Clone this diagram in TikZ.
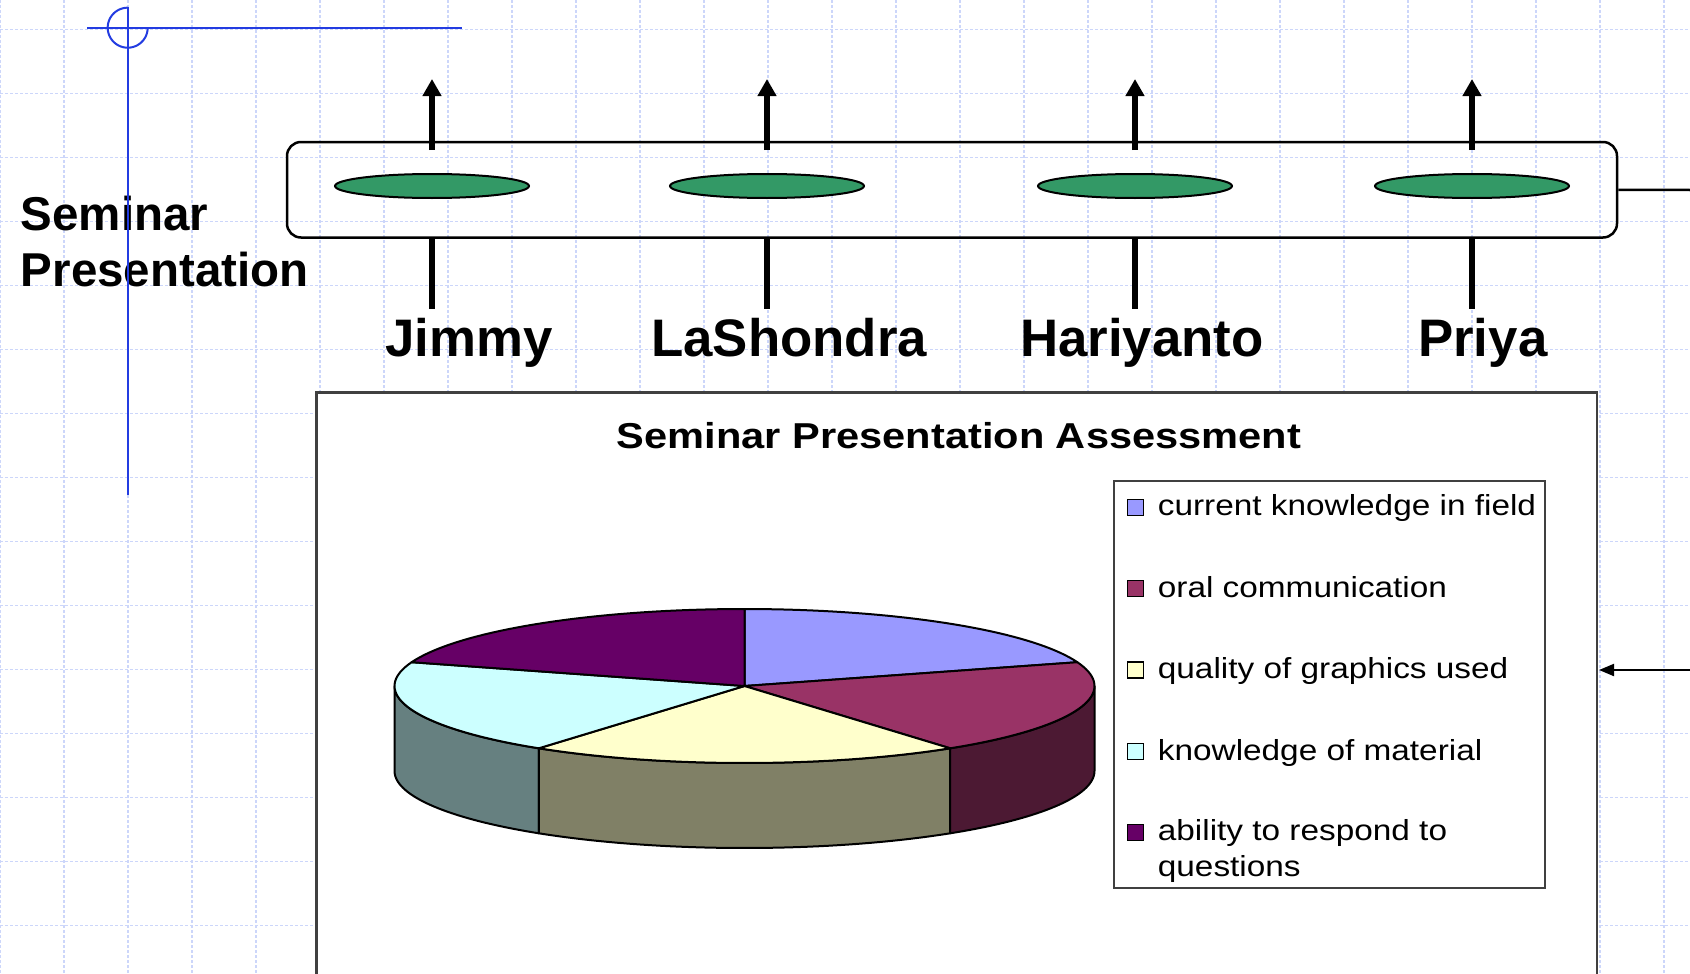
\documentclass[tikz,border=0pt]{standalone}
\usepackage{fontspec}
\setmainfont{Liberation Sans}
\newfontfamily\titlefont{Liberation Sans}[FakeStretch=1.155]
\newfontfamily\legfont{Liberation Sans}[FakeStretch=1.15]
\usetikzlibrary{arrows.meta,shapes.geometric}
\definecolor{gridblue}{RGB}{204,214,250}
\definecolor{guideblue}{RGB}{35,60,225}
\definecolor{pgreen}{RGB}{51,153,102}
\definecolor{cblue}{RGB}{153,153,255}
\definecolor{cmaroon}{RGB}{153,51,102}
\definecolor{ccream}{RGB}{255,255,204}
\definecolor{ccyan}{RGB}{204,255,255}
\definecolor{cpurple}{RGB}{102,0,102}
\definecolor{smaroon}{RGB}{76,25,51}
\definecolor{scream}{RGB}{128,128,102}
\definecolor{scyan}{RGB}{102,128,128}
\definecolor{framegray}{RGB}{64,64,64}
\begin{document}
\begin{tikzpicture}[x=1pt,y=-1pt,
  gridline/.style={gridblue,line width=1.3pt,dash pattern=on 3pt off 2pt},
  guide/.style={guideblue,line width=2pt},
  bar/.style={draw,line width=2.5pt,rounded corners=14pt,minimum width=1330pt,minimum height=95.5pt,inner sep=0pt},
  disc/.style={ellipse,draw,fill=pgreen,line width=2pt,minimum width=194pt,minimum height=24pt,inner sep=0pt},
  uparrow/.style={line width=6pt,-{Triangle[length=17pt,width=18pt]}},
  stem/.style={line width=6.5pt},
  person/.style={anchor=base west,inner sep=0pt,font=\fontsize{52.8}{60}\selectfont\bfseries},
  sem/.style={anchor=base west,inner sep=0pt,font=\fontsize{47.5}{56}\selectfont\bfseries},
  ctitle/.style={anchor=base,inner sep=0pt,font=\titlefont\bfseries\fontsize{36}{40}\selectfont},
  pieline/.style={draw=black,line width=2pt,line join=round},
  key/.style={draw,line width=1.5pt,minimum size=16pt,inner sep=0pt},
  legtext/.style={anchor=base west,inner sep=0pt,font=\legfont\fontsize{29}{36}\selectfont},
  leftarrow/.style={line width=2pt,-{Triangle[length=15pt,width=12pt]}}
]
\useasboundingbox (0,0) rectangle (1690,974);
\clip (0,0) rectangle (1690,974);
\fill[white] (0,0) rectangle (1690,974);
% grid
\foreach \i in {0,...,26} \draw[gridline] (64*\i,0) -- (64*\i,974);
\foreach \j in {0,...,14} \draw[gridline] (0,29.5+64*\j) -- (1690,29.5+64*\j);

% heading
\node[sem] (s1) at (20.7,230) {Seminar};
\node[sem] (s2) at (20.7,286.7) {Presentation};

% guides
\draw[guide] (87,27.7) -- (462,27.7);
\draw[guide] (127.7,7) -- (127.7,495);
\draw[guide] plot[domain=90:360,samples=60] ({127.7+20*cos(\x)},{27.7-20*sin(\x)});

% bar with ellipses
\node[bar] (bar) at (952,189.75) {};
\node[disc] (e1) at (432,186) {};
\node[disc] (e2) at (767,186) {};
\node[disc] (e3) at (1135,186) {};
\node[disc] (e4) at (1472,186) {};
\coordinate (t1) at (432,79);
\coordinate (t2) at (767,79);
\coordinate (t3) at (1135,79);
\coordinate (t4) at (1472,79);
\draw[uparrow] ([yshift=23pt]e1.north) -- (t1);
\draw[uparrow] ([yshift=23pt]e2.north) -- (t2);
\draw[uparrow] ([yshift=23pt]e3.north) -- (t3);
\draw[uparrow] ([yshift=23pt]e4.north) -- (t4);
\coordinate (b1) at (432,309.3);
\coordinate (b2) at (767,309.3);
\coordinate (b3) at (1135,309.3);
\coordinate (b4) at (1472,309.3);
\draw[stem] (e1 |- bar.south) -- (b1);
\draw[stem] (e2 |- bar.south) -- (b2);
\draw[stem] (e3 |- bar.south) -- (b3);
\draw[stem] (e4 |- bar.south) -- (b4);
\coordinate (rl) at (1690,190);
\draw[line width=2.5pt] (bar.east) -- (rl);

\node[person] (n1) at (385,356.7) {Jimmy};
\node[person] (n2) at (651,356.7) {LaShondra};
\node[person] (n3) at (1020,356.7) {Hariyanto};
\node[person] (n4) at (1418,356.7) {Priya};

% chart frame
\filldraw[fill=white,draw=framegray,line width=2.5pt] (316.7,392.7) rectangle (1597,1010);
\node[ctitle] (ttl) at (959,448.3) {Seminar Presentation Assessment};

% pie
\def\pcx{744.5}\def\pcy{686}\def\prx{350}\def\pry{77}\def\pdep{85}
\filldraw[pieline,fill=scyan] plot[domain=180:234,samples=40] ({\pcx+\prx*cos(\x)},{\pcy-\pry*sin(\x)}) -- plot[domain=234:180,samples=40] ({\pcx+\prx*cos(\x)},{\pcy+\pdep-\pry*sin(\x)}) -- cycle;
\filldraw[pieline,fill=scream] plot[domain=234:306,samples=40] ({\pcx+\prx*cos(\x)},{\pcy-\pry*sin(\x)}) -- plot[domain=306:234,samples=40] ({\pcx+\prx*cos(\x)},{\pcy+\pdep-\pry*sin(\x)}) -- cycle;
\filldraw[pieline,fill=smaroon] plot[domain=306:360,samples=40] ({\pcx+\prx*cos(\x)},{\pcy-\pry*sin(\x)}) -- plot[domain=360:306,samples=40] ({\pcx+\prx*cos(\x)},{\pcy+\pdep-\pry*sin(\x)}) -- cycle;
\filldraw[pieline,fill=cblue] (\pcx,\pcy) -- plot[domain=90:18,samples=40] ({\pcx+\prx*cos(\x)},{\pcy-\pry*sin(\x)}) -- cycle;
\filldraw[pieline,fill=cmaroon] (\pcx,\pcy) -- plot[domain=18:-54,samples=40] ({\pcx+\prx*cos(\x)},{\pcy-\pry*sin(\x)}) -- cycle;
\filldraw[pieline,fill=ccream] (\pcx,\pcy) -- plot[domain=-54:-126,samples=40] ({\pcx+\prx*cos(\x)},{\pcy-\pry*sin(\x)}) -- cycle;
\filldraw[pieline,fill=ccyan] (\pcx,\pcy) -- plot[domain=234:162,samples=40] ({\pcx+\prx*cos(\x)},{\pcy-\pry*sin(\x)}) -- cycle;
\filldraw[pieline,fill=cpurple] (\pcx,\pcy) -- plot[domain=162:90,samples=40] ({\pcx+\prx*cos(\x)},{\pcy-\pry*sin(\x)}) -- cycle;

% legend
\filldraw[fill=white,draw=framegray,line width=1.5pt] (1114,481) rectangle (1545,888);
\node[key,fill=cblue] (k1) at (1135.3,507.5) {};
\node[key,fill=cmaroon] (k2) at (1135.3,588.7) {};
\node[key,fill=ccream] (k3) at (1135.3,670) {};
\node[key,fill=ccyan] (k4) at (1135.3,751.5) {};
\node[key,fill=cpurple] (k5) at (1135.3,832.3) {};
\node[legtext] (l1) at (1157.7,515.7) {current knowledge in field};
\node[legtext] (l2) at (1157.7,597) {oral communication};
\node[legtext] (l3) at (1157.7,678.3) {quality of graphics used};
\node[legtext] (l4) at (1157.7,760) {knowledge of material};
\node[legtext] (l5) at (1157.7,840.7) {ability to respond to};
\node[legtext] (l5b) at (1157.7,876.7) {questions};

% right arrow
\coordinate (ra) at (1690,670);
\coordinate (chartedge) at (1599,670);
\draw[leftarrow] (ra) -- (chartedge);
\end{tikzpicture}
\end{document}
